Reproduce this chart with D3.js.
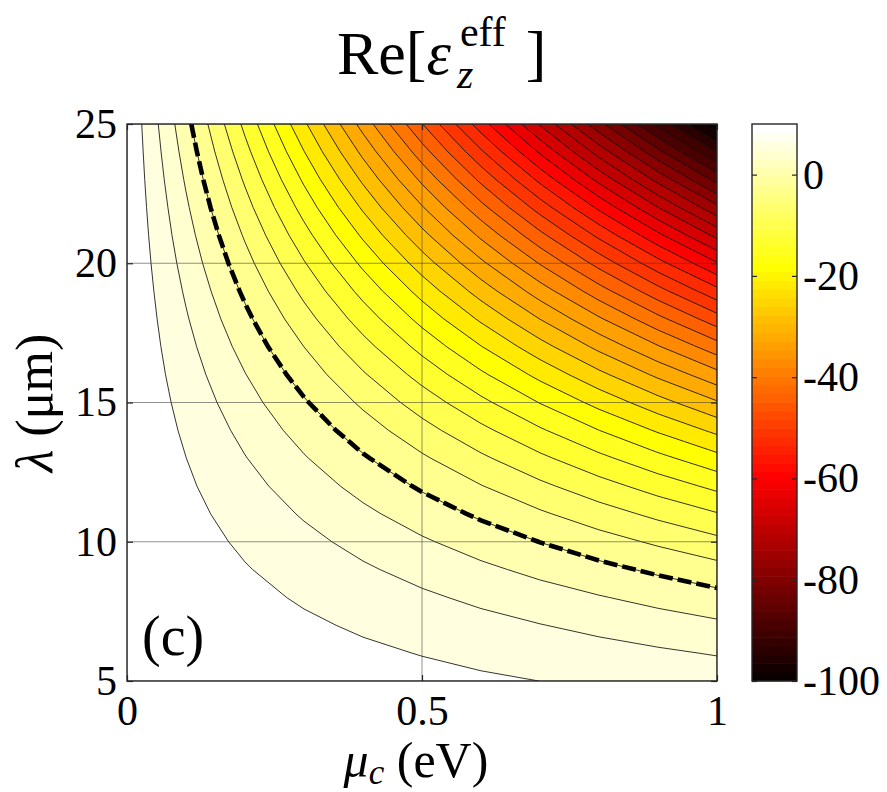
<!DOCTYPE html>
<html>
<head>
<meta charset="utf-8">
<script src="https://cdn.jsdelivr.net/npm/d3@7"></script>
<style>
  body { margin: 0; background: #fff; }
  text { font-family: "Liberation Serif", "Times New Roman", serif; fill: #000; }
</style>
</head>
<body>
<div id="chart"></div>
<script>

// sample points of the map (columns = mu_c in eV, rows = lambda in um)
var muValues = [0, 0.1, 0.2, 0.3, 0.4, 0.5, 0.6, 0.7, 0.8, 0.9, 1];
var lambdaValues = [5, 6, 7, 8, 9, 10, 11, 12, 13, 14, 15, 16, 17, 18, 19, 20, 21, 22, 23, 24, 25];

// Re[eps_z^eff], one row per lambda (5 -> 25 um)
var epsRows = [
  [12.59, 12.14, 11.69, 11.24, 10.79, 10.34, 9.89, 9.44, 8.99, 8.54, 8.09],
  [12.58, 11.93, 11.28, 10.64, 9.99, 9.34, 8.69, 8.04, 7.40, 6.75, 6.10],
  [12.57, 11.69, 10.81, 9.93, 9.05, 8.16, 7.28, 6.40, 5.52, 4.64, 3.75],
  [12.57, 11.41, 10.26, 9.11, 7.96, 6.81, 5.65, 4.50, 3.35, 2.20, 1.05],
  [12.56, 11.10, 9.64, 8.18, 6.72, 5.27, 3.81, 2.35, 0.89, -0.57, -2.02],
  [12.55, 10.75, 8.95, 7.15, 5.35, 3.55, 1.75, -0.05, -1.85, -3.65, -5.45],
  [12.53, 10.36, 8.18, 6.00, 3.82, 1.64, -0.53, -2.71, -4.89, -7.07, -9.25],
  [12.52, 9.93, 7.34, 4.75, 2.15, -0.44, -3.03, -5.62, -8.21, -10.81, -13.40],
  [12.51, 9.47, 6.42, 3.38, 0.34, -2.70, -5.74, -8.79, -11.83, -14.87, -17.91],
  [12.49, 8.97, 5.44, 1.91, -1.62, -5.15, -8.67, -12.20, -15.73, -19.26, -22.79],
  [12.48, 8.43, 4.38, 0.33, -3.72, -7.77, -11.82, -15.87, -19.92, -23.97, -28.02],
  [12.46, 7.85, 3.25, -1.36, -5.97, -10.58, -15.19, -19.79, -24.40, -29.01, -33.62],
  [12.44, 7.24, 2.04, -3.16, -8.36, -13.57, -18.77, -23.97, -29.17, -34.37, -39.58],
  [12.43, 6.59, 0.76, -5.07, -10.90, -16.74, -22.57, -28.40, -34.23, -40.06, -45.90],
  [12.41, 5.91, -0.59, -7.09, -13.59, -20.08, -26.58, -33.08, -39.58, -46.08, -52.57],
  [12.38, 5.18, -2.02, -9.22, -16.42, -23.62, -30.82, -38.02, -45.22, -52.42, -59.62],
  [12.36, 4.42, -3.51, -11.45, -19.39, -27.33, -35.27, -43.20, -51.14, -59.08, -67.02],
  [12.34, 3.63, -5.09, -13.80, -22.51, -31.22, -39.93, -48.65, -57.36, -66.07, -74.78],
  [12.31, 2.79, -6.73, -16.25, -25.77, -35.30, -44.82, -54.34, -63.86, -73.38, -82.91],
  [12.29, 1.92, -8.45, -18.82, -29.18, -39.55, -49.92, -60.29, -70.66, -81.02, -91.39],
  [12.26, 1.01, -10.24, -21.49, -32.74, -43.99, -55.24, -66.49, -77.74, -88.99, -100.24]
];

// contour levels, and the level drawn as the thick dashed line
var levels = [-97.65, -94.5, -91.35, -88.2, -85.05, -81.9, -78.75, -75.6, -72.45, -69.3,
              -66.15, -63, -59.85, -56.7, -53.55, -50.4, -47.25, -44.1, -40.95, -37.8,
              -34.65, -31.5, -28.35, -25.2, -22.05, -18.9, -15.75, -12.6, -9.45, -6.3,
              -3.15, 0, 3.15, 6.3, 9.45];
var dashLevel = [0];

var xTicks = [0, 0.5, 1];
var yTicks = [5, 10, 15, 20, 25];
var cbTicks = [0, -20, -40, -60, -80, -100];
var cLimits = [-100, 10];

// matlab "hot" colormap, 64 entries
function hot(v) {
  var n = 64;
  var k = Math.floor((v - cLimits[0]) / (cLimits[1] - cLimits[0]) * n);
  k = Math.max(0, Math.min(n - 1, k));
  var i = k + 1;
  var r = i <= 24 ? i / 24 : 1;
  var g = i <= 24 ? 0 : (i <= 48 ? (i - 24) / 24 : 1);
  var b = i <= 48 ? 0 : (i - 48) / 16;
  return d3.rgb(r * 255, g * 255, b * 255).toString();
}

var W = 887, H = 792;
var svg = d3.select("#chart").append("svg")
    .attr("width", W)
    .attr("height", H);

var x = d3.scaleLinear().domain([0, 1]).range([127, 717]);
var y = d3.scaleLinear().domain([5, 25]).range([681, 124]);

// grid coords of d3.contours -> data -> pixels
var nx = muValues.length, ny = lambdaValues.length;
var gx = d3.scaleLinear().domain([0.5, nx - 0.5]).range([x(muValues[0]), x(muValues[nx - 1])]);
var gy = d3.scaleLinear().domain([0.5, ny - 0.5]).range([y(lambdaValues[0]), y(lambdaValues[ny - 1])]);

var values = d3.merge(epsRows);
var contours = d3.contours().size([nx, ny]).thresholds(levels)(values);
var zeroLine = d3.contours().size([nx, ny]).thresholds(dashLevel)(values);

var path = d3.geoPath(d3.geoTransform({
  point: function(px, py) { this.stream.point(gx(px), gy(py)); }
}));

svg.append("clipPath").attr("id", "plotclip")
  .append("rect")
    .attr("x", x(0)).attr("y", y(25))
    .attr("width", x(1) - x(0)).attr("height", y(5) - y(25));

var plot = svg.append("g").attr("clip-path", "url(#plotclip)");

plot.append("rect")
    .attr("x", x(0)).attr("y", y(25))
    .attr("width", x(1) - x(0)).attr("height", y(5) - y(25))
    .attr("fill", hot(cLimits[0]));

plot.selectAll("path.fill")
  .data(contours)
  .enter().append("path")
    .attr("class", "fill")
    .attr("d", path)
    .attr("fill", function(d) { return hot(d.value); })
    .attr("stroke", "none");

plot.selectAll("path.line")
  .data(contours)
  .enter().append("path")
    .attr("class", "line")
    .attr("d", path)
    .attr("fill", "none")
    .attr("stroke", "#111")
    .attr("stroke-width", 1)
    .attr("stroke-opacity", 0.85);

// grid lines
plot.selectAll("line.gx")
  .data(xTicks)
  .enter().append("line")
    .attr("x1", function(d) { return x(d); }).attr("x2", function(d) { return x(d); })
    .attr("y1", y(5)).attr("y2", y(25))
    .attr("stroke", "#3a3a3a").attr("stroke-width", 0.8).attr("stroke-opacity", 0.7);

plot.selectAll("line.gy")
  .data(yTicks)
  .enter().append("line")
    .attr("x1", x(0)).attr("x2", x(1))
    .attr("y1", function(d) { return y(d); }).attr("y2", function(d) { return y(d); })
    .attr("stroke", "#3a3a3a").attr("stroke-width", 0.8).attr("stroke-opacity", 0.7);

plot.selectAll("path.zero")
  .data(zeroLine)
  .enter().append("path")
    .attr("class", "zero")
    .attr("d", path)
    .attr("fill", "none")
    .attr("stroke", "#000")
    .attr("stroke-width", 4.6)
    .attr("stroke-dasharray", "14,5");

// box + ticks
svg.append("rect")
    .attr("x", x(0)).attr("y", y(25))
    .attr("width", x(1) - x(0)).attr("height", y(5) - y(25))
    .attr("fill", "none").attr("stroke", "#262626").attr("stroke-width", 1.4);

function styleAxis(g, size) {
  g.select(".domain").remove();
  g.selectAll(".tick line").attr("stroke", "#262626").attr("stroke-width", 1.2);
  g.selectAll(".tick text")
    .style("font-family", "'Liberation Serif', 'Times New Roman', serif")
    .style("font-size", size + "px")
    .attr("fill", "#000");
}

svg.append("g")
    .attr("transform", "translate(" + x(0) + ",0)")
    .call(d3.axisLeft(y).tickValues(yTicks).tickSize(-6).tickPadding(10).tickFormat(d3.format("d")))
    .call(styleAxis, 42);

svg.append("g")
    .attr("transform", "translate(" + x(1) + ",0)")
    .call(d3.axisRight(y).tickValues(yTicks).tickSize(-6).tickFormat(""))
    .call(styleAxis, 42);

svg.append("g")
    .attr("transform", "translate(0," + y(5) + ")")
    .call(d3.axisBottom(x).tickValues(xTicks).tickSize(-6).tickPadding(14).tickFormat(function(d) { return String(d); }))
    .call(styleAxis, 42);

svg.append("g")
    .attr("transform", "translate(0," + y(25) + ")")
    .call(d3.axisTop(x).tickValues(xTicks).tickSize(-6).tickFormat(""))
    .call(styleAxis, 42);

// colorbar
var cbX = 752, cbW = 45;
var cy = d3.scaleLinear().domain(cLimits).range([681, 124]);
var nCol = 64, step = (cLimits[1] - cLimits[0]) / nCol;
var cbSteps = d3.range(nCol).map(function(i) { return cLimits[0] + i * step; });

svg.append("g").selectAll("rect")
  .data(cbSteps)
  .enter().append("rect")
    .attr("x", cbX)
    .attr("y", function(d) { return cy(d + step) - 0.3; })
    .attr("width", cbW)
    .attr("height", function(d) { return cy(d) - cy(d + step) + 0.6; })
    .attr("fill", function(d) { return hot(d + step / 2); });

svg.append("rect")
    .attr("x", cbX).attr("y", cy(cLimits[1]))
    .attr("width", cbW).attr("height", cy(cLimits[0]) - cy(cLimits[1]))
    .attr("fill", "none").attr("stroke", "#262626").attr("stroke-width", 1.4);

svg.append("g")
    .attr("transform", "translate(" + (cbX + cbW) + ",0)")
    .call(d3.axisRight(cy).tickValues(cbTicks).tickSize(-5).tickPadding(6).tickFormat(function(d) { return String(d); }))
    .call(styleAxis, 42);

svg.append("g")
    .attr("transform", "translate(" + cbX + ",0)")
    .call(d3.axisLeft(cy).tickValues(cbTicks).tickSize(-5).tickFormat(""))
    .call(styleAxis, 42);

// labels
var xl = svg.append("text")
    .attr("x", 416).attr("y", 777)
    .attr("text-anchor", "middle")
    .style("font-size", "50px");
xl.append("tspan").style("font-style", "italic").text("μ");
xl.append("tspan").style("font-style", "italic").style("font-size", "35px").attr("dy", 7).text("c");
xl.append("tspan").attr("dy", -7).text(" (eV)");

var yl = svg.append("text")
    .attr("transform", "translate(52,403) rotate(-90)")
    .attr("text-anchor", "middle")
    .style("font-size", "52px");
yl.append("tspan").style("font-style", "italic").text("λ");
yl.append("tspan").text(" (μm)");

svg.append("text")
    .attr("x", 142).attr("y", 655)
    .style("font-size", "56px")
    .text("(c)");

// title Re[eps_z^eff]
var tx = 337, tBase = 74;
var t1 = svg.append("text").attr("x", tx).attr("y", tBase).style("font-size", "62px");
t1.append("tspan").text("Re[");
t1.append("tspan").style("font-style", "italic").text("ε");
var t1w = t1.node().getComputedTextLength();
var sup = svg.append("text").attr("x", tx + t1w + 9).attr("y", tBase - 28)
    .style("font-size", "42px").text("eff");
var sub = svg.append("text").attr("x", tx + t1w + 6).attr("y", tBase + 14)
    .style("font-size", "42px").style("font-style", "italic").text("z");
var scriptEnd = Math.max(tx + t1w + 9 + sup.node().getComputedTextLength(),
                         tx + t1w + 6 + sub.node().getComputedTextLength());
svg.append("text").attr("x", scriptEnd + 20).attr("y", tBase).style("font-size", "62px").text("]");

</script>
</body>
</html>
